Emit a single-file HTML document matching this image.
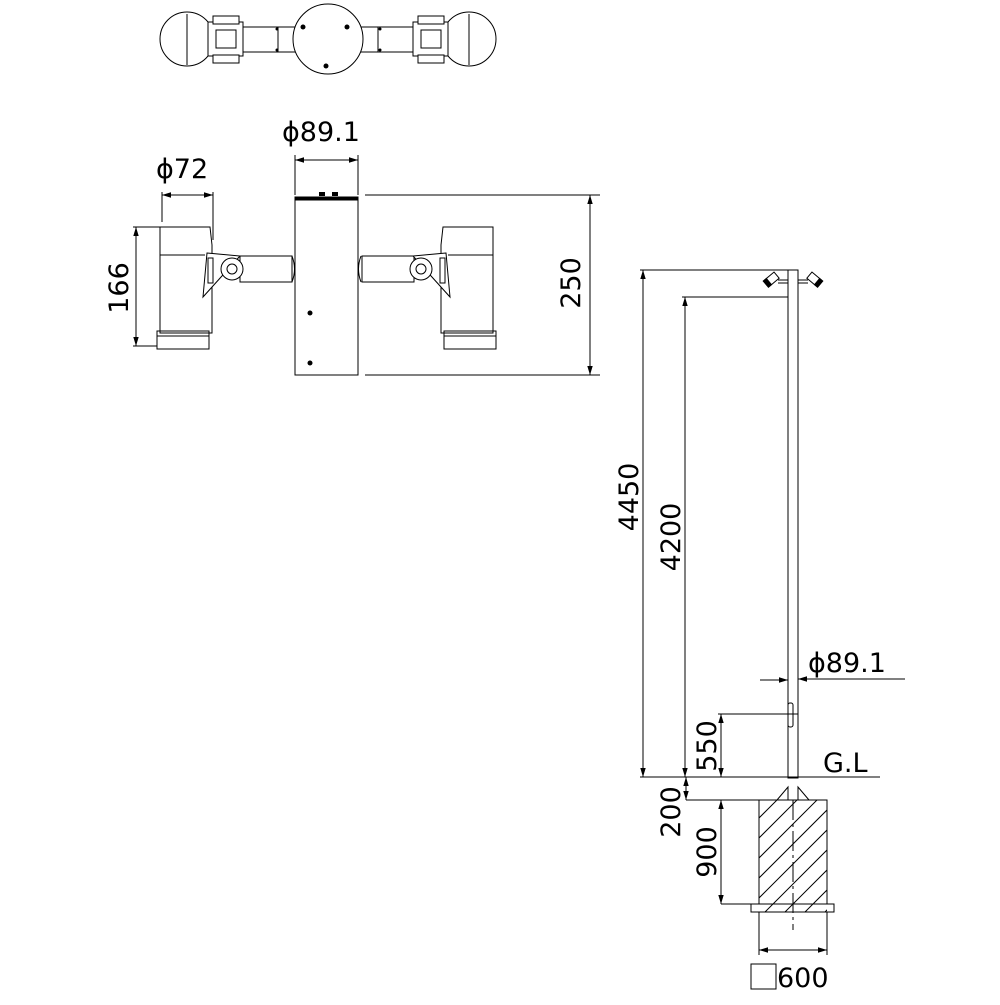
<!DOCTYPE html>
<html><head><meta charset="utf-8"><style>
html,body{margin:0;padding:0;background:#fff;}
svg text{font-family:"DejaVu Sans","Liberation Sans",sans-serif;fill:#000;}
</style></head><body>
<svg width="1000" height="1000" viewBox="0 0 1000 1000" xmlns="http://www.w3.org/2000/svg">
<defs>
<marker id="a" viewBox="0 0 10 10" refX="10" refY="5" markerWidth="9" markerHeight="9" orient="auto-start-reverse" markerUnits="userSpaceOnUse"><path d="M0,2 L10,5 L0,8 Z" fill="#000"/></marker>
<clipPath id="fc"><rect x="759" y="800" width="68" height="112"/></clipPath>
</defs>
<g fill="none" stroke="#000" stroke-width="1">
<!-- TOP VIEW -->
<rect x="240" y="27" width="56" height="25"/>
<rect x="360" y="27" width="56" height="25"/>
<line x1="278" y1="27" x2="278" y2="52"/>
<line x1="378" y1="27" x2="378" y2="52"/>
<circle cx="328" cy="39" r="35" fill="#fff"/>
<circle cx="187" cy="39" r="27" fill="#fff"/>
<line x1="187" y1="14" x2="187" y2="65"/>
<circle cx="469" cy="39" r="27" fill="#fff"/>
<line x1="469" y1="14" x2="469" y2="65"/>
<rect x="208" y="22" width="35" height="34" fill="#fff"/>
<rect x="213" y="16" width="26" height="8" fill="#fff"/>
<rect x="213" y="55" width="26" height="8" fill="#fff"/>
<rect x="216" y="30" width="20" height="18"/>
<rect x="413" y="22" width="35" height="34" fill="#fff"/>
<rect x="418" y="16" width="26" height="8" fill="#fff"/>
<rect x="418" y="55" width="26" height="8" fill="#fff"/>
<rect x="421" y="30" width="20" height="18"/>
<!-- SIDE VIEW: pole section -->
<rect x="295" y="197" width="63" height="178"/>
<line x1="295" y1="199" x2="358" y2="199" stroke-width="3"/>
<!-- left fixture -->
<path d="M160 227 H210 L212 245 V333 H160 Z"/>
<line x1="160" y1="255" x2="205" y2="255"/>
<rect x="157" y="331" width="52" height="18"/>
<line x1="157" y1="336" x2="209" y2="336"/>
<rect x="240" y="256" width="52" height="26" fill="#fff"/>
<path d="M207 253 L240 256 L203 297 Z" fill="#fff"/>
<rect x="208" y="258" width="5" height="25"/>
<circle cx="232" cy="269" r="11" fill="#fff"/>
<circle cx="232" cy="269" r="5"/>
<path d="M292 256 q5 13 0 26"/>
<!-- right fixture -->
<path d="M493 227 H443 L441 245 V333 H493 Z"/>
<line x1="493" y1="255" x2="448" y2="255"/>
<rect x="444" y="331" width="52" height="18"/>
<line x1="444" y1="336" x2="496" y2="336"/>
<rect x="362" y="256" width="52" height="26" fill="#fff"/>
<path d="M446 253 L413 256 L450 297 Z" fill="#fff"/>
<rect x="440" y="258" width="5" height="25"/>
<circle cx="421" cy="269" r="11" fill="#fff"/>
<circle cx="421" cy="269" r="5"/>
<path d="M361 256 q-5 13 0 26"/>
<!-- side dims -->
<line x1="295" y1="155" x2="295" y2="195"/>
<line x1="358" y1="155" x2="358" y2="195"/>
<line x1="295" y1="160" x2="358" y2="160" marker-start="url(#a)" marker-end="url(#a)"/>
<line x1="162" y1="192" x2="162" y2="222"/>
<line x1="213" y1="192" x2="213" y2="240"/>
<line x1="162" y1="195" x2="213" y2="195" marker-start="url(#a)" marker-end="url(#a)"/>
<line x1="133" y1="227" x2="160" y2="227"/>
<line x1="133" y1="346" x2="157" y2="346"/>
<line x1="136" y1="227" x2="136" y2="346" marker-start="url(#a)" marker-end="url(#a)"/>
<line x1="365" y1="195" x2="600" y2="195"/>
<line x1="365" y1="375" x2="600" y2="375"/>
<line x1="590" y1="195" x2="590" y2="375" marker-start="url(#a)" marker-end="url(#a)"/>
<!-- POLE -->
<rect x="788" y="270" width="10" height="508"/>
<rect x="788" y="703" width="5" height="24" rx="2"/>
<path d="M778 283 h10 M778 280 h10 M798 283 h10 M798 280 h10"/>
<g transform="rotate(-40 772 279)"><rect x="764" y="275" width="14" height="8" fill="#fff"/><rect x="764" y="275" width="4" height="8" fill="#000"/></g>
<g transform="rotate(40 814 279)"><rect x="808" y="275" width="14" height="8" fill="#fff"/><rect x="818" y="275" width="4" height="8" fill="#000"/></g>
<!-- GL -->
<line x1="640" y1="777" x2="880" y2="777"/>
<line x1="686" y1="800" x2="759" y2="800"/>
<!-- foundation -->
<rect x="759" y="800" width="68" height="104"/>
<rect x="751" y="904" width="83" height="8"/>
<path d="M777 800 L788 787 V800 M809 800 L798 787 V800"/>
<g clip-path="url(#fc)">
<path d="M759 818 l40 -40 M759 838 l70 -70 M759 858 l70 -70 M759 878 l70 -70 M759 898 l70 -70 M759 918 l70 -70 M779 918 l70 -70 M799 918 l70 -70 M819 918 l70 -70"/>
</g>
<line x1="793" y1="800" x2="793" y2="930" stroke-dasharray="20,4,3,4"/>
<!-- pole dims -->
<line x1="640" y1="270" x2="788" y2="270"/>
<line x1="643" y1="270" x2="643" y2="777" marker-start="url(#a)" marker-end="url(#a)"/>
<line x1="682" y1="297" x2="788" y2="297"/>
<line x1="685" y1="297" x2="685" y2="777" marker-start="url(#a)" marker-end="url(#a)"/>
<line x1="718" y1="714" x2="798" y2="714"/>
<line x1="721" y1="714" x2="721" y2="777" marker-start="url(#a)" marker-end="url(#a)"/>
<line x1="686" y1="777" x2="686" y2="800" marker-start="url(#a)" marker-end="url(#a)"/>
<line x1="721" y1="800" x2="721" y2="904" marker-start="url(#a)" marker-end="url(#a)"/>
<line x1="721" y1="904" x2="751" y2="904"/>
<line x1="760" y1="680" x2="788" y2="680" marker-end="url(#a)"/>
<line x1="905" y1="679" x2="798" y2="679" marker-end="url(#a)"/>
<line x1="759" y1="912" x2="759" y2="955"/>
<line x1="827" y1="912" x2="827" y2="955"/>
<line x1="759" y1="950" x2="827" y2="950" marker-start="url(#a)" marker-end="url(#a)"/>
<rect x="751" y="964" width="25" height="25"/>
</g>
<g fill="#000">
<circle cx="310" cy="313" r="2.5"/><circle cx="310" cy="363" r="2.5"/>
<rect x="319" y="192" width="6" height="4"/><rect x="332" y="192" width="6" height="4"/>
<circle cx="277" cy="29" r="1.5"/><circle cx="277" cy="50" r="1.5"/>
<circle cx="380" cy="29" r="1.5"/><circle cx="380" cy="50" r="1.5"/>
<circle cx="303" cy="27" r="2.5"/><circle cx="347" cy="27" r="2.5"/><circle cx="326" cy="66" r="2.5"/>
</g>
<g font-size="27">
<text x="282" y="141">ϕ89.1</text>
<text x="156" y="178">ϕ72</text>
<text x="808" y="672">ϕ89.1</text>
<text x="823" y="772">G.L</text>
<text x="777" y="987">600</text>
<text transform="translate(128 288) rotate(-90)" text-anchor="middle">166</text>
<text transform="translate(580 283) rotate(-90)" text-anchor="middle">250</text>
<text transform="translate(638 497) rotate(-90)" text-anchor="middle">4450</text>
<text transform="translate(680 537) rotate(-90)" text-anchor="middle">4200</text>
<text transform="translate(716 746) rotate(-90)" text-anchor="middle">550</text>
<text transform="translate(680 812) rotate(-90)" text-anchor="middle">200</text>
<text transform="translate(716 852) rotate(-90)" text-anchor="middle">900</text>
</g>
</svg>
</body></html>
